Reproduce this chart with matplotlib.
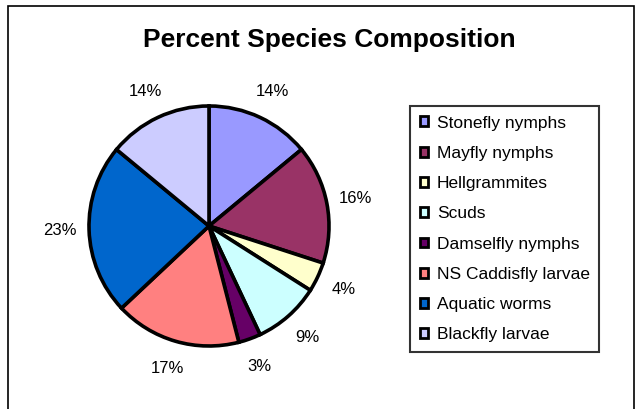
import matplotlib.pyplot as plt
from matplotlib.patches import Patch, Rectangle

plt.rcParams['font.family'] = ['Liberation Sans', 'DejaVu Sans']

# Data
species = ['Stonefly nymphs', 'Mayfly nymphs', 'Hellgrammites', 'Scuds',
           'Damselfly nymphs', 'NS Caddisfly larvae', 'Aquatic worms', 'Blackfly larvae']
percents = [14, 16, 4, 9, 3, 17, 23, 14]
colors = ['#9999FF', '#993366', '#FFFFCC', '#CCFFFF',
          '#660066', '#FF8080', '#0066CC', '#CCCCFF']

W, H = 640, 409
fig = plt.figure(figsize=(W / 100, H / 100), dpi=100)

# outer chart border
fig.patches.append(Rectangle((8 / W, -0.1), 626 / W, 1.1 - 6 / H,
                             transform=fig.transFigure, fill=False,
                             edgecolor='black', linewidth=1.2))

fig.text(329 / W, 1 - 40 / H, 'Percent Species Composition',
         ha='center', va='center', fontsize=19, fontweight='bold')

# pie axes centred at (209, 226) px, radius ~120 px
cx, cy, half = 209, 226, 130
ax = fig.add_axes([(cx - half) / W, (H - cy - half) / H, 2 * half / W, 2 * half / H])
r = 120

wedges, texts, autotexts = ax.pie(
    percents, colors=colors, startangle=90, counterclock=False,
    autopct='%d%%', pctdistance=1.24,
    wedgeprops=dict(edgecolor='black', linewidth=2.6),
    textprops=dict(fontsize=12))
for t in autotexts:
    t.set_clip_on(False)

lim = half / r
ax.set_xlim(-lim, lim)
ax.set_ylim(-lim, lim)
ax.set_aspect('equal')
ax.axis('off')

handles = [Patch(facecolor=c, edgecolor='black', linewidth=2) for c in colors]
leg = fig.legend(handles, species, loc='upper left',
                 bbox_to_anchor=(410 / W, 1 - 106 / H), borderaxespad=0,
                 fontsize=12.5, frameon=True, fancybox=False,
                 handlelength=0.5, handleheight=0.5, handletextpad=0.5,
                 labelspacing=0.88, borderpad=0.55)
leg.get_frame().set_edgecolor('black')
leg.get_frame().set_linewidth(1.5)

fig.savefig('out.png', dpi=100)
